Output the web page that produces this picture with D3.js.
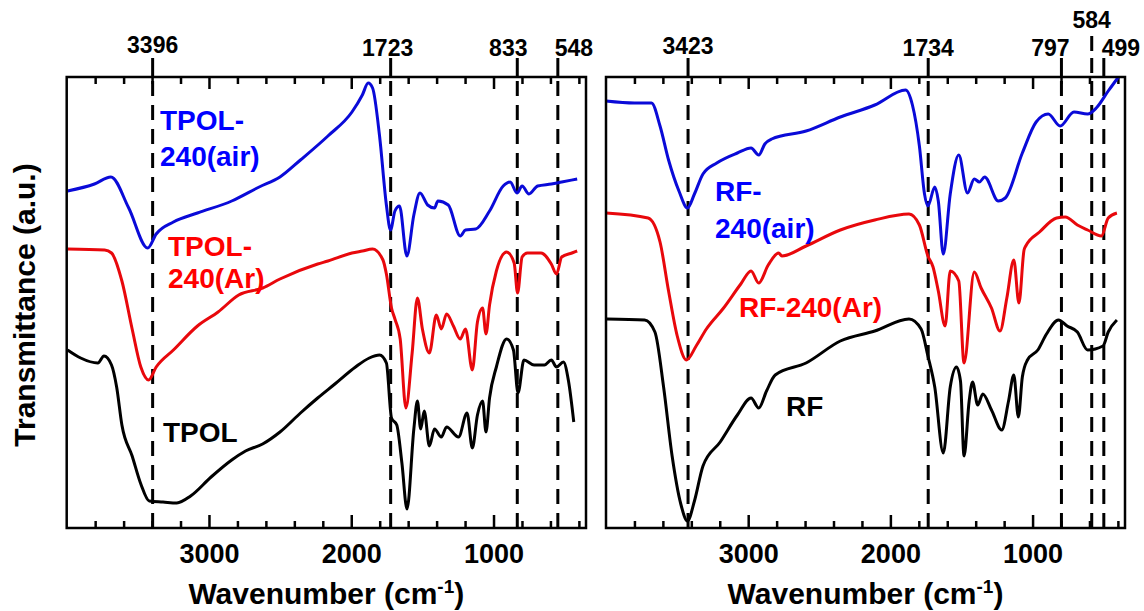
<!DOCTYPE html>
<html>
<head>
<meta charset="utf-8">
<script src="https://cdn.jsdelivr.net/npm/d3@7"></script>
<style>
  body { margin: 0; background: #fff; }
  text { font-family: "Liberation Sans", Arial, sans-serif; font-weight: bold; }
</style>
</head>
<body>
<div id="viz"></div>
<script>
// FTIR spectra, [wavenumber (cm-1), transmittance (a.u., stacked offset)]
var tpolAir = [[3994,337],[3805,344],[3689,351],[3564,320],[3431,280],[3371,294],[3250,306],[3081,315],
  [2840,327],[2647,341],[2501,351],[2357,368],[2164,392],[1995,416],[1922,433],[1881,445],[1850,440],
  [1801,392],[1753,323],[1724,298],[1693,317],[1661,322],[1609,272],[1560,313],[1517,335],[1463,323],
  [1415,320],[1391,327],[1318,323],[1234,292],[1197,298],[1125,299],[1028,317],[932,342],[883,346],
  [835,335],[799,342],[751,334],[690,342],[594,344],[521,346],[412,349]];
var tpolAr = [[3994,279],[3733,278],[3685,275],[3612,247],[3540,199],[3479,161],[3424,148],[3371,161],
  [3250,178],[3081,202],[2936,216],[2791,233],[2623,240],[2501,249],[2236,264],[2164,267],[1995,275],
  [1922,277],[1850,279],[1777,268],[1753,254],[1717,220],[1693,209],[1656,189],[1616,120],[1572,175],
  [1535,230],[1500,199],[1451,175],[1402,213],[1367,199],[1330,214],[1282,202],[1234,189],[1197,199],
  [1149,158],[1113,206],[1077,220],[1053,194],[1028,223],[980,257],[908,276],[855,265],[831,235],
  [799,271],[762,275],[666,275],[594,264],[557,254],[521,271],[449,275],[412,277]];
var tpol = [[3994,178],[3902,170],[3781,165],[3738,172],[3685,163],[3649,141],[3612,103],[3540,72],
  [3479,44],[3420,27],[3323,26],[3226,25],[3129,32],[2985,51],[2840,68],[2743,77],[2623,84],[2501,96],
  [2357,115],[2236,130],[2115,144],[1970,161],[1873,170],[1801,173],[1753,165],[1717,110],[1680,103],
  [1644,65],[1608,19],[1560,99],[1535,127],[1512,99],[1487,117],[1451,82],[1415,99],[1367,91],
  [1330,101],[1246,91],[1186,115],[1149,80],[1113,113],[1077,127],[1053,96],[1028,130],[980,161],
  [908,189],[860,178],[828,135],[786,168],[715,163],[642,163],[594,168],[557,161],[509,166],[473,147],[436,106]];

var rfAir = [[4000,427],[3800,425],[3680,425],[3620,402],[3560,368],[3487,337],[3427,320],[3378,334],
  [3318,354],[3221,365],[3076,375],[2980,380],[2926,373],[2883,384],[2835,389],[2593,397],[2352,411],
  [2110,423],[1893,438],[1845,423],[1796,382],[1760,334],[1736,322],[1688,341],[1663,327],[1628,274],
  [1579,334],[1519,373],[1458,335],[1410,349],[1374,346],[1337,351],[1241,327],[1192,330],[1072,375],
  [975,406],[890,414],[806,402],[709,416],[613,414],[552,420],[468,437],[396,451]];
var rfAr = [[4000,315],[3704,310],[3620,286],[3560,237],[3499,192],[3434,168],[3366,182],[3294,199],
  [3173,220],[3052,244],[2980,257],[2926,245],[2859,263],[2786,275],[2763,272],[2593,282],[2352,298],
  [2110,308],[1869,314],[1796,303],[1736,272],[1700,261],[1663,237],[1615,202],[1579,257],[1519,247],
  [1482,165],[1410,256],[1362,240],[1289,220],[1229,197],[1181,230],[1132,268],[1096,225],[1060,278],
  [1048,282],[951,296],[831,310],[770,311],[685,303],[613,298],[516,292],[468,310],[407,315]];
var rf = [[3994,209],[3728,208],[3656,196],[3595,141],[3535,72],[3474,24],[3427,7],[3378,27],[3318,62],
  [3197,86],[3076,113],[2980,130],[2926,120],[2871,137],[2810,153],[2593,165],[2352,187],[2110,197],
  [1869,209],[1784,199],[1736,172],[1688,141],[1628,75],[1579,141],[1535,161],[1507,147],[1482,72],
  [1446,127],[1422,146],[1386,123],[1350,134],[1289,118],[1217,98],[1169,127],[1132,153],[1100,111],
  [1072,151],[1036,168],[963,178],[902,194],[818,208],[757,202],[685,196],[613,178],[505,182],[468,196],[407,208]];

// marked peaks
var peaksLeft = [3396, 1723, 833, 548];
var peaksRight = [3423, 1734, 797, 584, 499];

// tick values
var majorTicks = [3000, 2000, 1000];
var minorTicks = d3.range(3800, 350, -200).filter(function(d) { return d % 1000; });

var seriesLeft = ["TPOL-240(air)", "TPOL-240(Ar)", "TPOL"];
var seriesRight = ["RF-240(air)", "RF-240(Ar)", "RF"];

var width = 1144, height = 611;
var yTop = 77, yBottom = 528;
var blue = "#0a0ad8", red = "#e8080c";

var svg = d3.select("#viz").append("svg")
    .attr("width", width)
    .attr("height", height);

var y = d3.scaleLinear().domain([0, 451]).range([yBottom, yTop]);

// panel layout, label positions are [dx, baseline]
var panels = [
  { x0: 66.7, x1: 586, peaks: peaksLeft,
    lines: [tpolAir, tpolAr, tpol],
    peakLab: { 3396: [0, 53], 1723: [-3, 56], 833: [-9, 56], 548: [16, 56] },
    labels: [
      { lines: ["TPOL-", "240(air)"], x: 160, y: [130, 166], color: "#0000ff" },
      { lines: ["TPOL-", "240(Ar)"], x: 168, y: [256, 288], color: "#ff0000" },
      { lines: [seriesLeft[2]], x: 163, y: [442], color: "#000" }
    ] },
  { x0: 606, x1: 1125, peaks: peaksRight,
    lines: [rfAir, rfAr, rf],
    peakLab: { 3423: [0, 54], 1734: [0, 56], 797: [-11, 56], 584: [0, 28], 499: [17, 56] },
    labels: [
      { lines: ["RF-", "240(air)"], x: 715, y: [201, 238], color: "#0000ff" },
      { lines: [seriesRight[1]], x: 739, y: [317], color: "#ff0000" },
      { lines: [seriesRight[2]], x: 786, y: [416], color: "#000" }
    ] }
];
var colors = [blue, red, "#000"];

panels.forEach(function(p) {
  var x = d3.scaleLinear().domain([4000, 350]).range([p.x0, p.x1]);
  var g = svg.append("g");

  // inward ticks, bottom
  g.append("g").attr("transform", "translate(0," + yBottom + ")")
      .call(d3.axisBottom(x).tickValues(minorTicks).tickSize(-7).tickFormat(""));
  var bMajor = g.append("g").attr("transform", "translate(0," + yBottom + ")")
      .call(d3.axisBottom(x).tickValues(majorTicks).tickSize(-13).tickPadding(16).tickFormat(d3.format("d")));
  bMajor.selectAll("text").attr("font-size", 27).attr("fill", "#000");
  // inward ticks, top
  g.append("g").attr("transform", "translate(0," + yTop + ")")
      .call(d3.axisTop(x).tickValues(minorTicks).tickSize(-7).tickFormat(""));
  g.append("g").attr("transform", "translate(0," + yTop + ")")
      .call(d3.axisTop(x).tickValues(majorTicks).tickSize(-12).tickFormat(""));
  g.selectAll(".domain").remove();
  g.selectAll(".tick line").attr("stroke", "#000").attr("stroke-width", 2.5);

  // peak markers
  p.peaks.forEach(function(w) {
    var px = x(w), lab = p.peakLab[w];
    g.append("line")
      .attr("x1", px).attr("x2", px).attr("y1", w === 584 ? 36 : 58).attr("y2", yTop)
      .attr("stroke", "#000").attr("stroke-width", 3)
      .attr("stroke-dasharray", w === 584 ? "15,7" : null);
    g.append("line")
      .attr("x1", px).attr("x2", px).attr("y1", yTop + 4).attr("y2", yBottom)
      .attr("stroke", "#000").attr("stroke-width", 3)
      .attr("stroke-dasharray", "15,9");
    g.append("text")
      .attr("x", px + lab[0]).attr("y", lab[1])
      .attr("text-anchor", "middle").attr("font-size", 23)
      .text(w);
  });

  // spectra
  var line = d3.line()
      .x(function(d) { return x(d[0]); })
      .y(function(d) { return y(d[1]); })
      .curve(d3.curveMonotoneX);
  p.lines.forEach(function(data, i) {
    g.append("path")
      .datum(data)
      .attr("d", line)
      .attr("fill", "none")
      .attr("stroke", colors[i])
      .attr("stroke-width", 3)
      .attr("stroke-linejoin", "round");
  });

  // curve labels
  p.labels.forEach(function(l) {
    l.lines.forEach(function(s, j) {
      g.append("text")
        .attr("x", l.x).attr("y", l.y[j])
        .attr("font-size", 28).attr("fill", l.color)
        .text(s);
    });
  });

  // frame
  g.append("rect")
    .attr("x", p.x0).attr("y", yTop)
    .attr("width", p.x1 - p.x0).attr("height", yBottom - yTop)
    .attr("fill", "none").attr("stroke", "#000").attr("stroke-width", 2.5);

  // x title
  var t = g.append("text")
    .attr("x", (p.x0 + p.x1) / 2).attr("y", 604)
    .attr("text-anchor", "middle").attr("font-size", 30);
  t.append("tspan").text("Wavenumber (cm");
  t.append("tspan").attr("font-size", 19).attr("dy", -11).text("-1");
  t.append("tspan").attr("dy", 11).text(")");
});

// y title
svg.append("text")
  .attr("transform", "translate(35,305) rotate(-90)")
  .attr("text-anchor", "middle").attr("font-size", 30)
  .text("Transmittance (a.u.)");
</script>
</body>
</html>
